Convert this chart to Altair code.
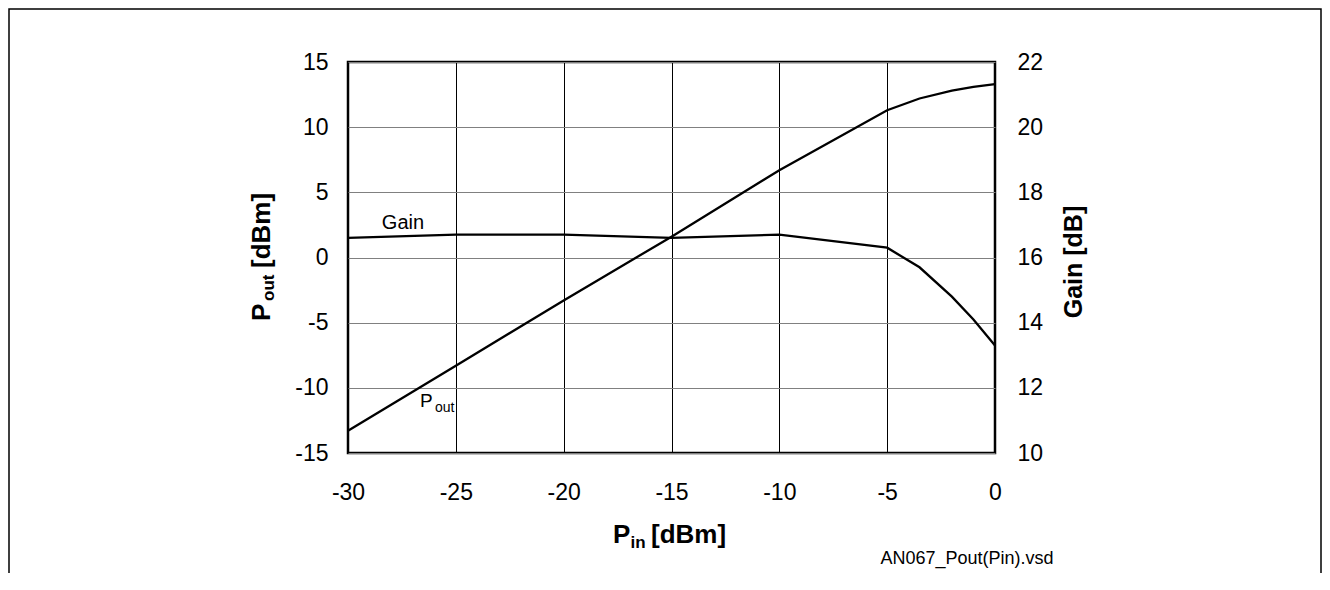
import altair as alt
import pandas as pd

# ---- data ----
pin = [-30, -25, -20, -15, -10, -5, -3.5, -2, -1, 0]
pout = [-13.3, -8.3, -3.3, 1.6, 6.7, 11.3, 12.2, 12.8, 13.1, 13.3]
gain = [16.6, 16.7, 16.7, 16.6, 16.7, 16.3, 15.7, 14.8, 14.1, 13.3]

x_ticks = [-30, -25, -20, -15, -10, -5, 0]
pout_ticks = [-15, -10, -5, 0, 5, 10, 15]
gain_ticks = [10, 12, 14, 16, 18, 20, 22]

df = pd.DataFrame({"pin": pin, "pout": pout, "gain": gain})
one = pd.DataFrame({"k": [0]})

FONT = "Liberation Sans"
BLACK = "#000000"
LBL = "'' + datum.value"  # plain hyphen-minus like the reference
LSIZE = 23

x_enc = alt.X(
    "pin:Q",
    scale=alt.Scale(domain=[-30, 0], nice=False, zero=False),
    axis=alt.Axis(values=x_ticks, title=None, grid=True, gridColor=BLACK, gridWidth=1,
                  gridOpacity=1, domain=False, ticks=False, tickSize=0, labelPadding=28,
                  labelFontSize=LSIZE, labelFont=FONT, labelColor=BLACK, labelFlush=False,
                  labelOverlap=False, labelExpr=LBL),
)
y_pout = alt.Y(
    "pout:Q",
    scale=alt.Scale(domain=[-15, 15], nice=False, zero=False),
    axis=alt.Axis(values=pout_ticks, orient="left", title=None, grid=True, gridColor="#808080",
                  gridWidth=1, gridOpacity=1, domain=False, ticks=False, tickSize=0,
                  labelPadding=20, labelFontSize=LSIZE, labelFont=FONT, labelColor=BLACK,
                  labelFlush=False, labelOverlap=False, labelExpr=LBL),
)
y_gain = alt.Y(
    "gain:Q",
    scale=alt.Scale(domain=[10, 22], nice=False, zero=False),
    axis=alt.Axis(values=gain_ticks, orient="right", title=None, grid=False, domain=False,
                  ticks=False, tickSize=0, labelPadding=22, labelFontSize=LSIZE, labelFont=FONT,
                  labelColor=BLACK, labelFlush=False, labelOverlap=False, labelExpr=LBL),
)

base = alt.Chart(df)
pout_line = base.mark_line(color=BLACK, strokeWidth=2.3).encode(x=x_enc, y=y_pout)
gain_line = base.mark_line(color=BLACK, strokeWidth=2.3).encode(x=x_enc, y=y_gain)

# in-plot labels placed in data coordinates (Pout scale)
ann_gain = pd.DataFrame({"pin": [-27.45], "pout": [2.64]})
ann_p = pd.DataFrame({"pin": [-26.66], "pout": [-11.48]})
ann_out = pd.DataFrame({"pin": [-25.97], "pout": [-11.86]})

gain_lbl = alt.Chart(ann_gain).mark_text(text="Gain", font=FONT, fontSize=20, color=BLACK,
                                         align="center", baseline="middle").encode(x=x_enc, y=y_pout)
p_lbl = alt.Chart(ann_p).mark_text(text="P", font=FONT, fontSize=19, color=BLACK,
                                   align="left", baseline="alphabetic").encode(x=x_enc, y=y_pout)
out_lbl = alt.Chart(ann_out).mark_text(text="out", font=FONT, fontSize=14, color=BLACK,
                                       align="left", baseline="alphabetic").encode(x=x_enc, y=y_pout)

left_layer = alt.layer(pout_line, gain_lbl, p_lbl, out_lbl)
data_layer = alt.layer(left_layer, gain_line).resolve_scale(y="independent")


def txt(s, x, y, size, bold=True, angle=0, align="left", baseline="alphabetic"):
    kw = dict(text=s, font=FONT, fontSize=size, color=BLACK, align=align, baseline=baseline)
    if bold:
        kw["fontWeight"] = "bold"
    if angle:
        kw["angle"] = angle
    return alt.Chart(one).mark_text(**kw).encode(x=alt.value(x), y=alt.value(y))


# axis titles with subscripts (pixel positions relative to plot area)
titles = [
    # left: P_out [dBm], rotated
    txt("P", -78, 259, 26, angle=270),
    txt("out", -74, 239, 17, angle=270),
    txt("[dBm]", -78, 206, 26, angle=270),
    # right: Gain [dB], rotated
    txt("Gain [dB]", 734, 200, 25, angle=270, align="center"),
    # bottom: P_in [dBm]
    txt("P", 265, 481, 26),
    txt("in", 282.5, 486, 17),
    txt("[dBm]", 303, 481, 26),
    # file name note
    txt("AN067_Pout(Pin).vsd", 619, 497, 18, bold=False, align="center", baseline="middle"),
]

frame = alt.Chart(one).mark_rect(fillOpacity=0, stroke=BLACK, strokeWidth=1.5).encode(
    x=alt.value(-339), x2=alt.value(973), y=alt.value(-53), y2=alt.value(700)
)

chart = alt.layer(frame, data_layer, *titles).properties(
    width=647,
    height=391,
    padding={"left": 340, "top": 54, "right": 327, "bottom": 120},
    autosize=alt.AutoSizeParams(type="none"),
    background="white",
).configure_view(stroke=BLACK, strokeWidth=2.5)

chart.save("out.html", embed_options={"renderer": "svg", "actions": False})
